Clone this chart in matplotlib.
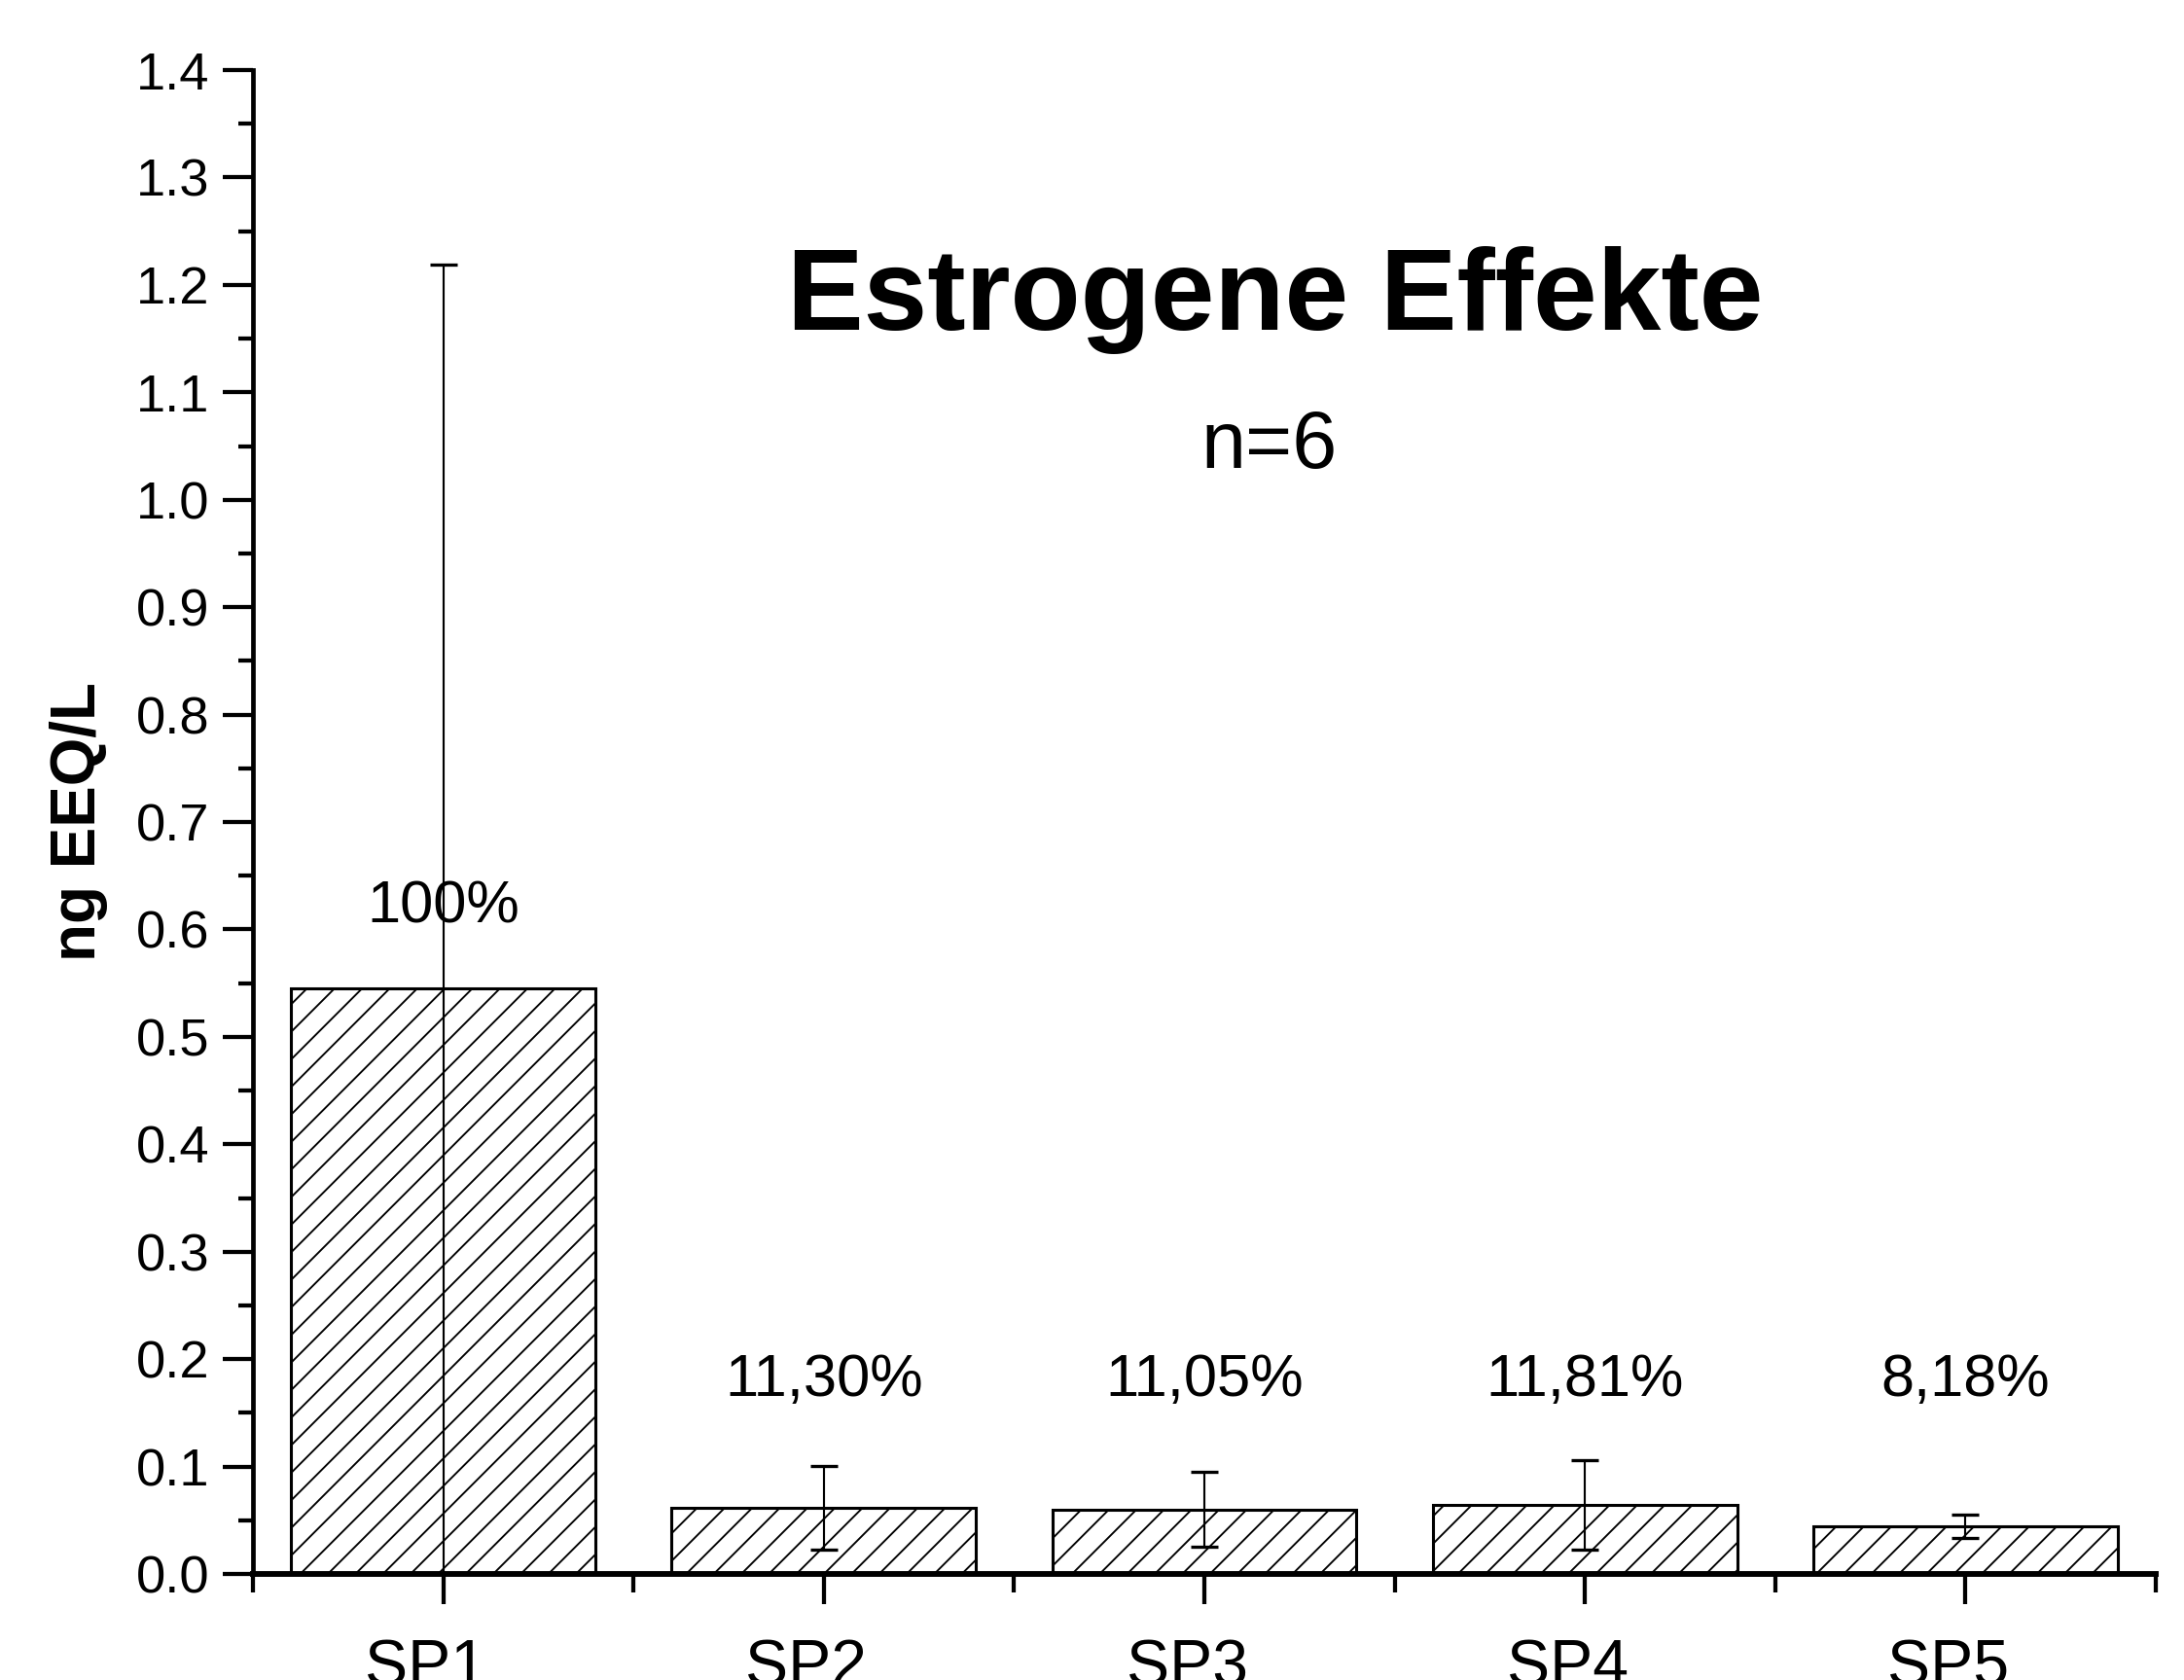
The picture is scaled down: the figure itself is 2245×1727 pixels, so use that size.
import matplotlib
matplotlib.use("Agg")
import matplotlib.pyplot as plt
from matplotlib.ticker import MultipleLocator, FixedLocator
from matplotlib.transforms import ScaledTranslation

plt.rcParams['font.family'] = ['Liberation Sans', 'DejaVu Sans']
plt.rcParams['hatch.linewidth'] = 0.8

# Sample sites and mean estrogenic activity (ng EEQ/L)
sites = ["SP1", "SP2", "SP3", "SP4", "SP5"]
means = [0.545, 0.0616, 0.0602, 0.0644, 0.0446]
errors = [0.674, 0.039, 0.035, 0.042, 0.011]
# activity relative to SP1
percent_labels = ["100%", "11,30%", "11,05%", "11,81%", "8,18%"]
label_heights = [0.62, 0.18, 0.18, 0.18, 0.18]

DPI = 170
fig = plt.figure(figsize=(2245 / DPI, 1727 / DPI), dpi=DPI)
ax = fig.add_axes([0.1158, 0.0631, 0.8713, 0.8952])

x = list(range(1, len(sites) + 1))
ax.bar(x, means, width=0.8, color="white", edgecolor="black",
       linewidth=1.3, hatch="//", zorder=2)
ax.errorbar(x, means, yerr=errors, fmt="none", ecolor="black",
            elinewidth=0.9, capsize=6, capthick=1.4, zorder=3)

for xi, lab, yl in zip(x, percent_labels, label_heights):
    ax.text(xi, yl, lab, ha="center", va="center", fontsize=26)

ax.text(0.537, 0.847, "Estrogene Effekte", transform=ax.transAxes,
        ha="center", va="center", fontsize=50, fontweight="bold")
ax.text(0.534, 0.75, "n=6", transform=ax.transAxes,
        ha="center", va="center", fontsize=35)

ax.set_xlim(0.5, 5.5)
ax.set_ylim(0, 1.4)

ax.set_yticks([v / 10 for v in range(0, 15)])
ax.set_yticklabels([f"{v / 10:.1f}" for v in range(0, 15)])
ax.yaxis.set_minor_locator(MultipleLocator(0.05))

ax.xaxis.set_major_locator(FixedLocator(x))
ax.xaxis.set_minor_locator(FixedLocator([0.5, 1.5, 2.5, 3.5, 4.5, 5.5]))
ax.set_xticklabels(sites)

ax.tick_params(axis="y", which="major", direction="out", length=13,
               width=1.8, labelsize=23, pad=6)
ax.tick_params(axis="y", which="minor", direction="out", length=6.5, width=1.8)
ax.tick_params(axis="x", which="major", direction="out", length=13,
               width=1.8, labelsize=28, pad=15)
ax.tick_params(axis="x", which="minor", direction="out", length=8, width=1.8)

# nudge the category labels slightly to the left
shift = ScaledTranslation(-18 / DPI, 0, fig.dpi_scale_trans)
for lbl in ax.get_xticklabels():
    lbl.set_transform(lbl.get_transform() + shift)

for side in ("top", "right"):
    ax.spines[side].set_visible(False)
ax.spines["left"].set_linewidth(2.0)
ax.spines["bottom"].set_linewidth(2.5)

ax.set_ylabel("ng EEQ/L", fontsize=27, fontweight="bold", labelpad=12)

fig.savefig("out.png", dpi=DPI)
